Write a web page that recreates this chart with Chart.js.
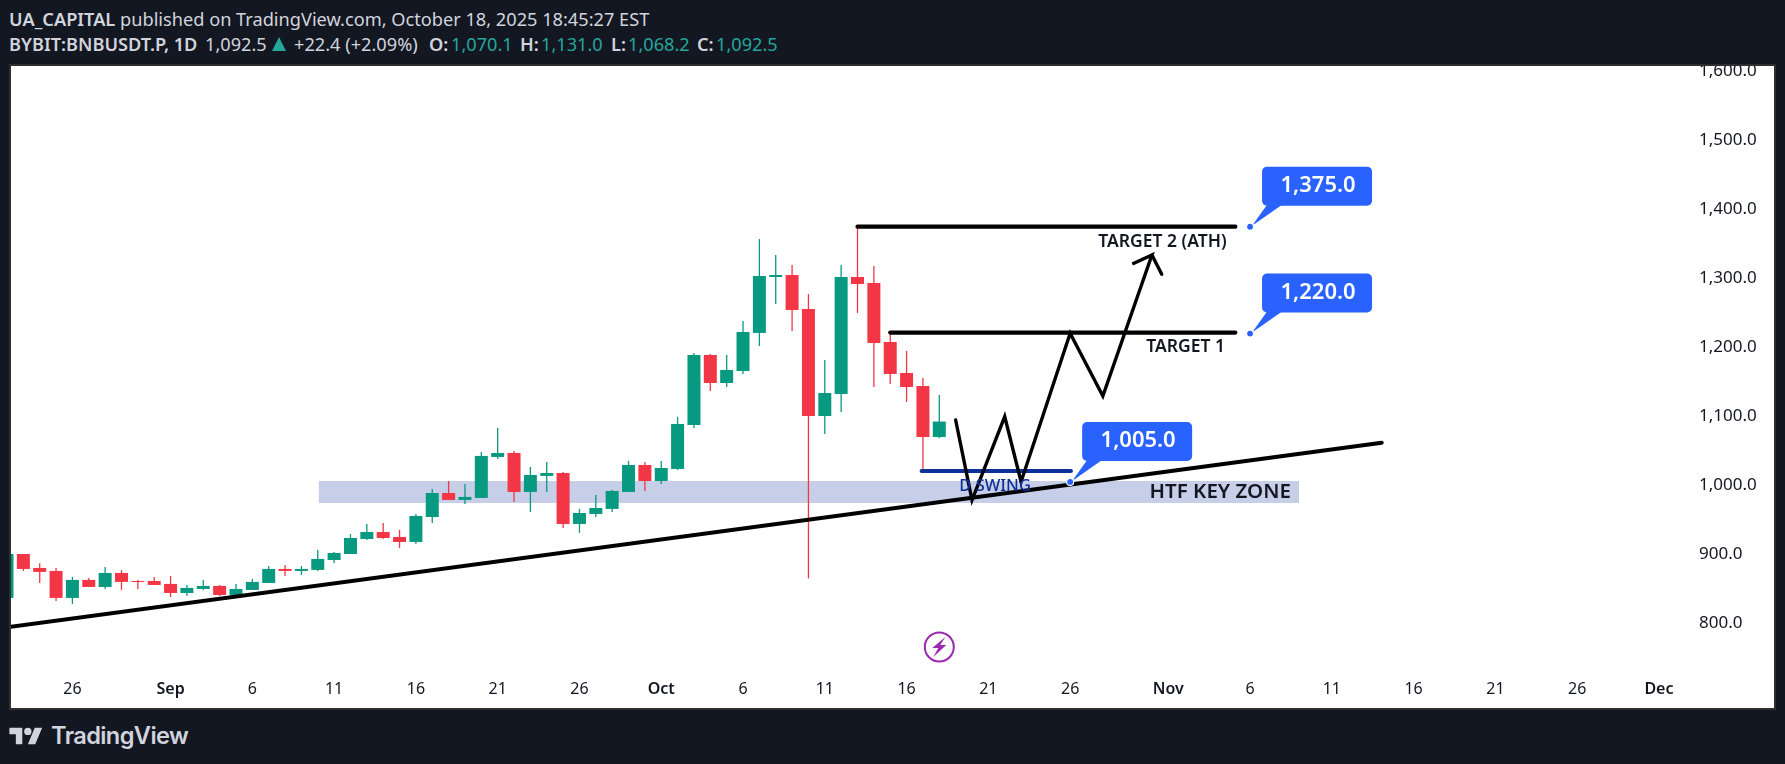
<!DOCTYPE html>
<html>
<head>
<meta charset="utf-8">
<title>BNBUSDT.P</title>
<script src="https://cdn.jsdelivr.net/npm/chart.js@4"></script>
<style>
  html, body { margin: 0; padding: 0; width: 1785px; height: 764px; overflow: hidden; background: #131722; }
  body { font-family: "Noto Sans", sans-serif; color: #d1d4dc; position: relative; }
  .line { position: absolute; left: 9px; white-space: nowrap; font-size: 18.2px; line-height: 24px; }
  #line1 { top: 7px; }
  #line2 { top: 32px; }
  .line b { font-weight: 600; }
  #line2 span, #line2 b { position: absolute; top: 0; }
  #line2 span.val { color: #26a69a; }
  #tri { position: absolute; left: 263px; top: 5px; width: 0; height: 0; border-left: 7.5px solid transparent; border-right: 7.5px solid transparent; border-bottom: 14px solid #26a69a; }
  #pane { position: absolute; left: 9px; top: 64px; width: 1763px; height: 642px; border: 2px solid #2e2e2e; background: #fff; }
  #logo { position: absolute; left: 9px; top: 724px; width: 34px; height: 24px; }
  #brand { position: absolute; left: 51px; top: 721px; font: 600 23.6px Inter, sans-serif; letter-spacing: -0.6px; color: #d1d4dc; }
</style>
</head>
<body>
<div id="line1" class="line"><b>UA_CAPITAL</b> published on TradingView.com, October 18, 2025 18:45:27 EST</div>
<div id="line2" class="line">
  <b style="left:0">BYBIT:BNBUSDT.P, 1D</b>
  <span style="left:196px">1,092.5</span><i id="tri"></i>
  <span style="left:285px">+22.4 (+2.09%)</span>
  <b style="left:420px">O:</b><span class="val" style="left:442px">1,070.1</span>
  <b style="left:511px">H:</b><span class="val" style="left:532px">1,131.0</span>
  <b style="left:602px">L:</b><span class="val" style="left:619px">1,068.2</span>
  <b style="left:688px">C:</b><span class="val" style="left:707px">1,092.5</span>
</div>
<div id="pane"><canvas id="chart" width="1763" height="642"></canvas></div>
<svg id="logo" viewBox="0 0 36 26"><path fill="#d1d4dc" d="M14 22H7V11H0V4h14v18zM28 22h-8l7.5-18h8L28 22z"/><circle fill="#d1d4dc" cx="20" cy="8" r="4"/></svg>
<div id="brand">TradingView</div>
<script>
const dates = ['Aug 22','Aug 23','Aug 24','Aug 25','Aug 26','Aug 27','Aug 28','Aug 29','Aug 30','Aug 31',
  'Sep 1','Sep 2','Sep 3','Sep 4','Sep 5','Sep 6','Sep 7','Sep 8','Sep 9','Sep 10','Sep 11','Sep 12','Sep 13','Sep 14','Sep 15',
  'Sep 16','Sep 17','Sep 18','Sep 19','Sep 20','Sep 21','Sep 22','Sep 23','Sep 24','Sep 25','Sep 26','Sep 27','Sep 28','Sep 29','Sep 30',
  'Oct 1','Oct 2','Oct 3','Oct 4','Oct 5','Oct 6','Oct 7','Oct 8','Oct 9','Oct 10','Oct 11','Oct 12','Oct 13','Oct 14','Oct 15','Oct 16','Oct 17','Oct 18'];
const opens = [836.9,900.6,880.3,876,836.9,863,852.8,873.1,861.5,861.5,
  857.2,844.1,849.9,854.3,841.2,848.5,858.6,878.9,876,877.5,891.9,900.6,922.4,932.5,925.3,
  918,954.2,989,978.9,981.8,1041.2,1047,990.5,1013.7,1018,944.1,958.6,965.9,990.5,1029.6,
  1006.4,1023.8,1087.6,1189,1148.4,1165.8,1220.9,1302,1304.9,1255.6,1100.6,1132.5,1302,1293.3,1207.8,1162.9,1144,1070.1];
const closes = [900.6,878.9,874.6,836.9,863,852.8,873.1,860.1,860.1,855.7,
  844.1,851.4,854.3,841.2,849.9,860.1,878.9,876,878.9,893.4,902.1,923.8,932.5,923.8,918,
  955.7,989,978.9,983.3,1042.7,1047,990.5,1015.1,1018,944.1,960,967.3,992,1029.6,1006.4,
  1025.3,1089,1189,1148.4,1167.3,1222.3,1303.5,1304.9,1254.2,1100.6,1133.9,1302,1291.9,1206.4,1161.5,1142.6,1070.1,1092.5];
const highs = [905,900.6,887,880.3,867.3,865.9,881.8,877.5,863,867.3,
  868.8,855.7,863,855.7,857.2,864.4,883.2,884.7,883.2,906.4,903.5,929.6,944.1,945.5,935.4,
  958.6,994.8,1006.4,1002.1,1048.5,1083.2,1049.9,1026.7,1034,1019.5,965.9,986.1,993.4,1035.4,1034,
  1035.4,1099.2,1191.9,1190.4,1189,1238.3,1357,1333.9,1319.4,1277.4,1181.8,1319.4,1374.5,1318,1222.3,1194.8,1155.7,1131];
const lows = [830,876,858.6,832.5,828.2,852.8,849.9,848.5,849.9,855.7,
  838.3,839.8,848.5,839.8,841.2,848.5,858.6,868.8,870.2,876,887.6,900.6,920.9,922.4,909.3,
  915.1,945.5,978.9,973.1,981.8,1038.3,976,961.5,990.5,938.3,931.1,954.3,961.5,990.5,992,
  1002.1,1022.4,1083.2,1136.8,1142.6,1161.5,1202,1262.9,1223.8,865,1074.5,1106.4,1249.9,1142.6,1147,1120.9,1022.4,1068.2];

// x positions below are day numbers, counted from Aug 22
const xTickDays = [4,10,15,20,25,30,35,40,45,50,55,60,65,71,76,81,86,91,96,101];
const xTickLabels = ['26','Sep','6','11','16','21','26','Oct','6','11','16','21','26','Nov','6','11','16','21','26','Dec'];
const yTicks = [800,900,1000,1100,1200,1300,1400,1500,1600];

const trendDays = [0,84.05];
const trendPrices = [794.4,1061.9];
const zoneDays = [19.05,79.0];
const zoneTop = 1006.4;
const zoneBottom = 974.5;
const target2Days = [52,75.1];
const target2Prices = [1375,1375];
const target1Days = [54,75.1];
const target1Prices = [1221.5,1221.5];
const swingDays = [55.92,65.05];
const swingPrices = [1020.9,1020.9];
const pathDays = [58,59,61,62,65,67,70,68.8,70,70.6];
const pathPrices = [1094.8,978.8,1099.6,1005.4,1220.4,1129.6,1333.9,1320.9,1333.9,1306];

const calloutDays = [76,76,65];
const calloutPrices = [1375,1220,1005];
const calloutLabels = ['1,375.0','1,220.0','1,005.0'];

const noteTexts = ['TARGET 2 (ATH)','TARGET 1','HTF KEY ZONE','D SWING'];
const noteDays = [74.57,74.47,78.5,62.6];
const notePrices = [1353.2,1201,990.9,999.1];

const upColor = '#089981';
const downColor = '#f23645';
const candleColors = opens.map((o, i) => closes[i] >= o ? upColor : downColor);

function toPoints(xs, ys) {
  return xs.map((x, i) => ({ x: x, y: ys[i] }));
}

function lineSet(xs, ys, color, width, order) {
  return {
    type: 'line',
    data: toPoints(xs, ys),
    borderColor: color,
    borderWidth: width,
    borderCapStyle: 'round',
    pointRadius: 0,
    tension: 0,
    order: order
  };
}

// callouts, notes and the event icon
const drawingsPlugin = {
  id: 'drawings',
  afterDatasetsDraw(chart) {
    const ctx = chart.ctx;
    const xs = chart.scales.x;
    const ys = chart.scales.y;

    ctx.save();
    ctx.textBaseline = 'middle';
    noteTexts.forEach((text, i) => {
      ctx.textAlign = 'right';
      ctx.fillStyle = text === 'D SWING' ? '#0c3299' : '#131722';
      if (i === 2) ctx.font = '600 20.5px "Noto Sans"';
      else if (i === 3) ctx.font = '500 16.5px "Noto Sans"';
      else ctx.font = '600 17.5px "Noto Sans"';
      ctx.fillText(text, xs.getPixelForValue(noteDays[i]), ys.getPixelForValue(notePrices[i]));
    });

    calloutDays.forEach((day, i) => {
      const px = xs.getPixelForValue(day);
      const py = ys.getPixelForValue(calloutPrices[i]);
      const left = px + 12;
      const top = py - 60;
      ctx.fillStyle = '#2962ff';
      ctx.beginPath();
      ctx.moveTo(px + 2, py - 1);
      ctx.lineTo(left + 5, top + 38);
      ctx.lineTo(left + 20, top + 38);
      ctx.closePath();
      ctx.fill();
      ctx.beginPath();
      ctx.roundRect(left, top, 110, 39, 5);
      ctx.fill();
      ctx.fillStyle = '#fff';
      ctx.textAlign = 'center';
      ctx.font = '600 22px "Noto Sans"';
      ctx.fillText(calloutLabels[i], left + 56, top + 19);
      ctx.beginPath();
      ctx.arc(px, py, 3.5, 0, Math.PI * 2);
      ctx.fillStyle = '#2962ff';
      ctx.strokeStyle = '#fff';
      ctx.lineWidth = 1.2;
      ctx.fill();
      ctx.stroke();
    });

    // event marker under the last candle
    const ix = xs.getPixelForValue(57);
    const iy = chart.chartArea.bottom - 18;
    ctx.strokeStyle = '#9c27b0';
    ctx.lineWidth = 2;
    ctx.beginPath();
    ctx.arc(ix, iy, 14.5, 0, Math.PI * 2);
    ctx.stroke();
    ctx.fillStyle = '#9c27b0';
    ctx.beginPath();
    ctx.moveTo(ix + 6, iy - 10);
    ctx.lineTo(ix - 7, iy + 1);
    ctx.lineTo(ix - 1, iy + 1);
    ctx.lineTo(ix - 6, iy + 10);
    ctx.lineTo(ix + 7, iy - 2);
    ctx.lineTo(ix + 1, iy - 2);
    ctx.closePath();
    ctx.fill();
    ctx.restore();
  }
};

const noPadding = function (scale) {
  scale.paddingTop = 0;
  scale.paddingBottom = 0;
  scale.paddingLeft = 0;
  scale.paddingRight = 0;
};

new Chart(document.getElementById('chart'), {
  type: 'bar',
  plugins: [drawingsPlugin],
  data: {
    datasets: [
      lineSet(pathDays, pathPrices, '#000', 3.4, 1),
      lineSet(trendDays, trendPrices, '#000', 4, 2),
      lineSet(swingDays, swingPrices, '#0c3299', 4, 3),
      lineSet(target1Days, target1Prices, '#000', 4.2, 4),
      lineSet(target2Days, target2Prices, '#000', 4.2, 4),
      {
        data: opens.map((o, i) => ({ x: i, y: [o, closes[i]] })),
        backgroundColor: candleColors,
        maxBarThickness: 13,
        barThickness: 13,
        barPercentage: 1,
        categoryPercentage: 1,
        grouped: false,
        inflateAmount: 0,
        order: 7
      },
      {
        data: lows.map((l, i) => ({ x: i, y: [l, highs[i]] })),
        backgroundColor: candleColors,
        maxBarThickness: 1.3,
        barThickness: 1.3,
        barPercentage: 1,
        categoryPercentage: 1,
        grouped: false,
        inflateAmount: 0,
        order: 8
      },
      {
        type: 'line',
        data: toPoints(zoneDays, [zoneTop, zoneTop]),
        borderWidth: 0,
        pointRadius: 0,
        backgroundColor: '#c7cee8',
        fill: { value: zoneBottom },
        order: 10
      }
    ]
  },
  options: {
    responsive: false,
    animation: false,
    events: [],
    devicePixelRatio: 1,
    layout: { padding: 0 },
    plugins: { legend: { display: false }, tooltip: { enabled: false }, title: { display: false } },
    scales: {
      x: {
        type: 'linear',
        offset: false,
        min: 0.2446,
        max: 102.47,
        grid: { display: false, offset: false },
        border: { display: false },
        afterBuildTicks(scale) {
          scale.ticks = xTickDays.map(v => ({ value: v }));
        },
        afterFit(scale) {
          scale.height = 43;
          noPadding(scale);
        },
        ticks: {
          autoSkip: false,
          maxRotation: 0,
          padding: 7,
          color: '#131722',
          callback: v => xTickLabels[xTickDays.indexOf(v)],
          font: ctx => ({
            family: '"Noto Sans"',
            size: 16,
            weight: ctx.tick && isNaN(Number(xTickLabels[xTickDays.indexOf(ctx.tick.value)])) ? '600' : '400'
          })
        }
      },
      y: {
        type: 'linear',
        position: 'right',
        min: 739.7,
        max: 1607.8,
        grid: { display: false },
        border: { display: false },
        afterBuildTicks(scale) {
          scale.ticks = yTicks.map(v => ({ value: v }));
        },
        afterFit(scale) {
          scale.width = 91;
          noPadding(scale);
        },
        ticks: {
          autoSkip: false,
          padding: 8,
          color: '#131722',
          font: { family: '"Noto Sans"', size: 17 },
          callback: v => v.toLocaleString('en-US', { minimumFractionDigits: 1, maximumFractionDigits: 1 })
        }
      }
    }
  }
});
</script>
</body>
</html>
